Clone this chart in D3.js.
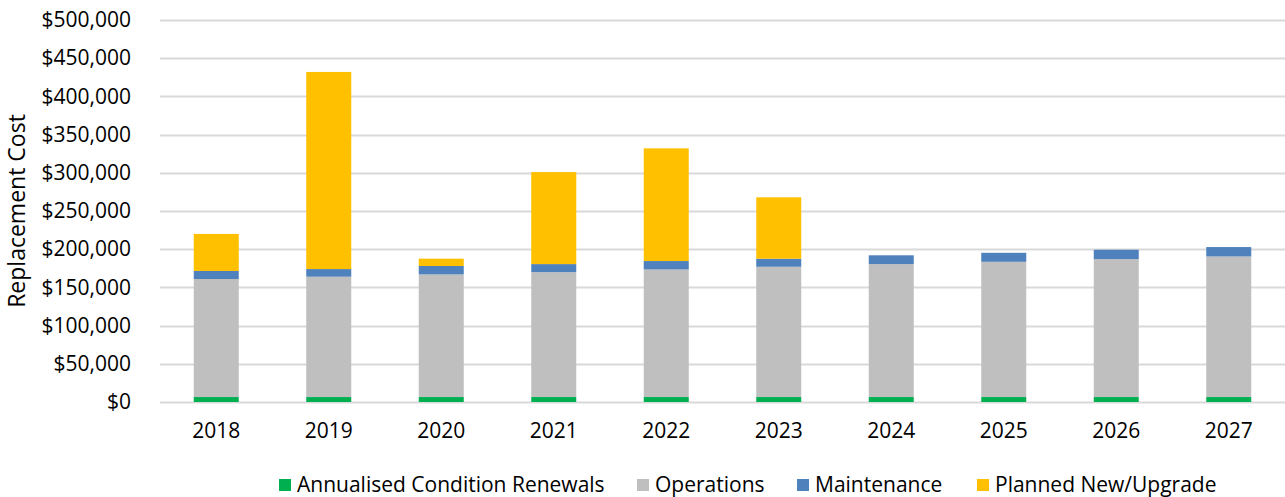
<!DOCTYPE html>
<html lang="en">
<head>
    <meta charset="UTF-8">
    <script src="https://cdnjs.cloudflare.com/ajax/libs/d3/7.8.5/d3.min.js"></script>
    <title>Replacement Cost</title>
    <style>
        body { margin: 0; background: #fff; }
        text { font-family: "Open Sans", "Liberation Sans", sans-serif; fill: #000; }
    </style>
</head>
<body>
<script>

    // chart data
    let years = ["2018", "2019", "2020", "2021", "2022", "2023", "2024", "2025", "2026", "2027"];
    let renewals = [6500, 6500, 6500, 6500, 6500, 6500, 6500, 6500, 6500, 6500];
    let operations = [154500, 157500, 160500, 163500, 167000, 170500, 174000, 177000, 180500, 184000];
    let maintenance = [10500, 10000, 11000, 10500, 11000, 10500, 11500, 11800, 12300, 12300];
    let planned = [48500, 258000, 9600, 120400, 147500, 80400, 0, 0, 0, 0];
    let seriesNames = ["Annualised Condition Renewals", "Operations", "Maintenance", "Planned New/Upgrade"];
    let colors = ["#00b050", "#bfbfbf", "#4f81bd", "#ffc000"];
    let yTicks = [0, 50000, 100000, 150000, 200000, 250000, 300000, 350000, 400000, 450000, 500000];

    let W = 1285, H = 497;
    let margin = {top: 20, right: 0, bottom: 95, left: 160};
    let width = W - margin.left - margin.right;
    let height = H - margin.top - margin.bottom;

    let svg = d3.select("body").append("svg")
        .attr("width", W)
        .attr("height", H);

    let g = svg.append("g")
        .attr("transform", "translate(" + margin.left + "," + margin.top + ")");

    let x = d3.scaleBand().domain(years).range([0, width]).paddingInner(0.6).paddingOuter(0.3);
    let y = d3.scaleLinear().domain([0, 500000]).range([height, 0]);

    // build rows for stacking
    let rows = years.map(function(yr, i) {
        return {year: yr, s0: renewals[i], s1: operations[i], s2: maintenance[i], s3: planned[i]};
    });
    let stack = d3.stack().keys(["s0", "s1", "s2", "s3"])(rows);

    // gridlines
    g.append("g")
        .selectAll("line")
        .data(yTicks)
        .enter().append("line")
        .attr("x1", 0)
        .attr("x2", width)
        .attr("y1", function(d) { return Math.round(y(d)) + 0.5; })
        .attr("y2", function(d) { return Math.round(y(d)) + 0.5; })
        .attr("stroke", "#d9d9d9")
        .attr("stroke-width", 2);

    // y axis labels
    let yAxis = g.append("g")
        .call(d3.axisLeft(y).tickValues(yTicks).tickSize(0).tickPadding(29)
            .tickFormat(function(d) { return "$" + d3.format(",")(d); }));
    yAxis.select(".domain").remove();
    yAxis.selectAll("text")
        .style("font-size", "21px")
        .style("font-family", "'Open Sans', sans-serif");

    // bars
    g.append("g")
        .selectAll("g")
        .data(stack)
        .enter().append("g")
        .attr("fill", function(d, i) { return colors[i]; })
        .selectAll("rect")
        .data(function(d) { return d; })
        .enter().append("rect")
        .attr("x", function(d) { return x(d.data.year); })
        .attr("width", x.bandwidth())
        .attr("y", function(d) { return y(d[1]); })
        .attr("height", function(d) { return y(d[0]) - y(d[1]); });

    // x axis labels
    let xAxis = g.append("g")
        .attr("transform", "translate(0," + height + ")")
        .call(d3.axisBottom(x).tickSize(0).tickPadding(21));
    xAxis.select(".domain").remove();
    xAxis.selectAll("text")
        .style("font-size", "21px")
        .style("font-family", "'Open Sans', sans-serif");

    // y axis title
    svg.append("text")
        .attr("transform", "rotate(-90)")
        .attr("x", -(margin.top + height / 2))
        .attr("y", 25)
        .style("text-anchor", "middle")
        .style("font-size", "23px")
        .text("Replacement Cost");

    // legend
    let legendX = [279, 637, 797, 977];
    let legend = svg.append("g")
        .selectAll("g")
        .data(seriesNames)
        .enter().append("g")
        .attr("transform", function(d, i) { return "translate(" + legendX[i] + "," + 479 + ")"; });
    legend.append("rect")
        .attr("width", 12)
        .attr("height", 12)
        .attr("fill", function(d, i) { return colors[i]; });
    legend.append("text")
        .attr("x", 18)
        .attr("y", 13)
        .style("font-size", "21px")
        .text(function(d) { return d; });

</script>
</body>
</html>
